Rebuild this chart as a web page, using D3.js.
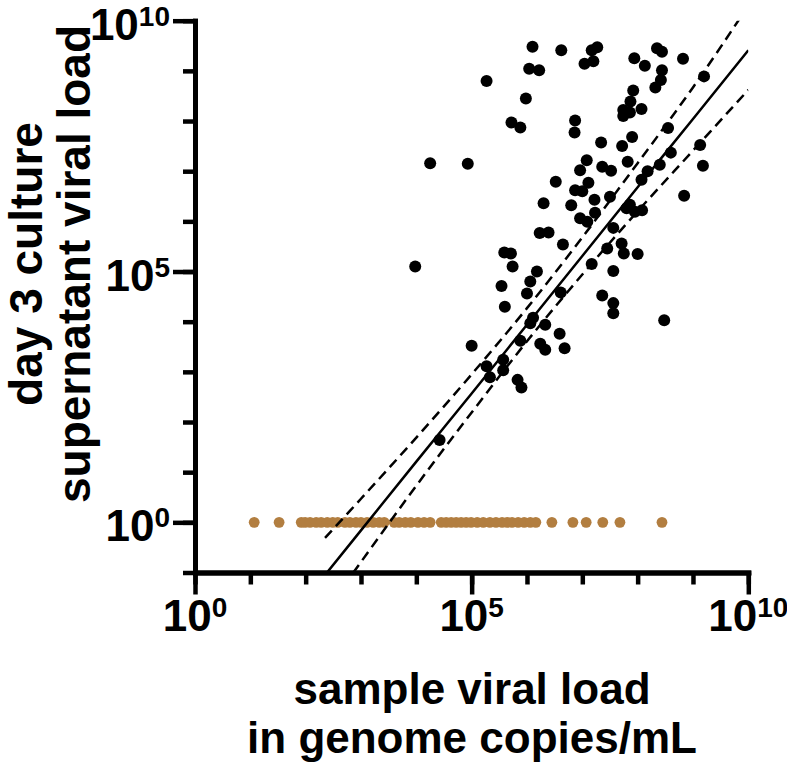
<!DOCTYPE html>
<html><head><meta charset="utf-8">
<script src="https://cdn.jsdelivr.net/npm/d3@7"></script>
<style>
body{margin:0;background:#fff}
svg{display:block}
text{font-family:"Liberation Sans",Arial,Helvetica,sans-serif;font-weight:bold;fill:#000}
</style>
</head><body>
<svg id="chart" width="787" height="771"></svg>
<script>
// ---- data (log10 values) ----
// culture-positive samples: sample viral load (x) and day-3 supernatant viral load (y)
const positiveSampleLog = [6.10,6.62,6.04,6.22,5.27,5.98,5.72,5.88,4.25,4.93,6.52,6.30,6.23,6.39,
  7.27,7.17,7.20,7.04,7.94,8.13,8.35,8.44,8.82,8.44,8.42,8.32,9.20,7.92,7.87,8.07,7.74,7.74,7.86,6.87,6.86,8.55,7.34,7.90,7.72,9.13,7.08,6.96,7.36,7.52,7.82,8.60,8.40,9.18,8.18,8.07,7.11,6.87,7.00,7.22,7.50,6.80,8.84,7.86,7.80,7.95,8.08,7.23,6.96,7.09,7.56,
  6.65,5.59,5.71,3.98,5.74,6.18,6.06,5.54,6.00,6.61,5.60,6.11,6.06,6.33,6.59,5.88,6.24,6.33,6.68,5.00,5.57,5.27,5.57,5.33,5.83,5.90,4.42,
  7.71,7.45,7.75,8.00,7.17,7.56,7.36,7.56,7.56,8.48];
const positiveCultureLog = [9.48,9.41,9.04,9.01,8.80,8.45,7.97,7.87,7.16,7.15,6.79,6.36,5.77,5.78,
  9.47,9.41,9.19,9.14,9.25,9.10,9.45,9.38,9.24,9.01,8.82,8.67,8.89,8.61,8.39,8.24,8.22,8.10,8.17,8.01,7.77,7.86,7.57,7.68,7.50,7.52,7.22,7.02,7.09,7.01,7.19,7.37,7.13,7.11,7.00,6.83,6.77,6.62,6.60,6.43,6.49,6.32,6.51,6.33,6.26,6.19,6.22,6.17,6.06,5.99,5.87,
  5.54,5.38,5.36,5.10,5.10,5.00,4.80,4.71,4.56,4.58,4.30,4.08,3.97,3.94,3.76,3.62,3.56,3.44,3.47,3.52,3.24,3.11,3.03,2.89,2.84,2.69,1.64,
  5.56,5.46,5.36,5.35,5.15,5.01,4.52,4.37,4.17,4.03];
// culture-negative samples, plotted at 10^0
const negativeSampleLog = [1.07,1.52,1.92,1.99,2.08,2.19,2.28,2.39,2.49,2.58,2.71,2.80,2.91,3.00,3.11,3.22,3.33,3.42,
  3.60,3.69,3.80,3.90,4.03,4.14,4.25,4.45,4.54,4.63,4.72,4.81,4.90,4.99,5.10,5.21,5.33,5.44,5.55,5.64,5.73,5.84,5.95,6.06,6.16,
  6.45,6.83,7.07,7.37,7.68,8.44];
const negativeCultureLog = 0;
// regression line and its confidence band (log10 values)
const fitSampleLog = [2.35,3,4,5,6,7,8,9,10];
const fitCultureLog = [-1.05,-0.16,1.21,2.57,3.94,5.31,6.68,8.04,9.41];
const upperCultureLog = [-0.31,0.47,1.69,2.95,4.27,5.68,7.16,8.67,10.30];
const lowerCultureLog = [-1.79,-0.79,0.73,2.19,3.61,4.94,6.20,7.41,8.62];
// axes
const xDecades = [0,1,2,3,4,5,6,7,8,9,10];
const yDecades = [-1,0,1,2,3,4,5,6,7,8,9,10];
const labelExps = [0,5,10];
const xTitle = ["sample viral load","in genome copies/mL"];
const yTitle = ["day 3 culture","supernatant viral load"];

// ---- drawing ----
const svg = d3.select("#chart");
const X0 = 195, X1 = 748.3, Y0 = 572.5, Y1 = 20.7;
const x = d3.scaleLog().domain([1, 1e10]).range([X0, X1]);
const y = d3.scaleLog().domain([0.1, 1e10]).range([Y0, Y1]);
const p10 = e => Math.pow(10, e);

svg.append("defs").append("clipPath").attr("id","plotclip")
  .append("rect").attr("x", X0).attr("y", Y1).attr("width", X1 - X0).attr("height", Y0 - Y1);

// points
const pts = svg.append("g");
pts.selectAll("circle.neg").data(negativeSampleLog).join("circle")
  .attr("class","neg")
  .attr("cx", d => x(p10(d))).attr("cy", y(p10(negativeCultureLog))).attr("r", 5.4)
  .attr("fill", "#b27e40");
pts.selectAll("circle.pos").data(positiveSampleLog.map((d,i)=>[d, positiveCultureLog[i]])).join("circle")
  .attr("class","pos")
  .attr("cx", d => x(p10(d[0]))).attr("cy", d => y(p10(d[1]))).attr("r", 6)
  .attr("fill", "#000");

// fit lines
const lines = svg.append("g").attr("clip-path","url(#plotclip)");
const lineGen = d3.line().curve(d3.curveMonotoneX);
function drawLine(ys, dash){
  lines.append("path")
    .attr("d", lineGen(fitSampleLog.map((d,i)=>[x(p10(d)), y(p10(ys[i]))])))
    .attr("fill","none").attr("stroke","#000").attr("stroke-width",2.5)
    .attr("stroke-dasharray", dash || null);
}
drawLine(fitCultureLog);
drawLine(upperCultureLog, "10,6");
drawLine(lowerCultureLog, "10,6");

// axes
function styleAxis(g){
  g.selectAll(".domain").attr("stroke","#000").attr("stroke-width",5).attr("stroke-linecap","square");
  g.selectAll(".tick line").attr("stroke","#000").attr("stroke-width",4.5);
  g.selectAll(".tick text").remove();
}
const xAxisMinor = d3.axisBottom(x).tickValues(xDecades.map(p10)).tickSize(12).tickSizeOuter(0).tickFormat(()=>"");
const xAxisMajor = d3.axisBottom(x).tickValues(labelExps.map(p10)).tickSize(22).tickSizeOuter(0).tickFormat(()=>"");
const yAxisMinor = d3.axisLeft(y).tickValues(yDecades.map(p10)).tickSize(12).tickSizeOuter(0).tickFormat(()=>"");
const yAxisMajor = d3.axisLeft(y).tickValues(labelExps.map(p10)).tickSize(22).tickSizeOuter(0).tickFormat(()=>"");
svg.append("g").attr("transform",`translate(0,${Y0})`).call(xAxisMinor).call(styleAxis);
svg.append("g").attr("transform",`translate(0,${Y0})`).call(xAxisMajor).call(styleAxis);
svg.append("g").attr("transform",`translate(${X0},0)`).call(yAxisMinor).call(styleAxis);
svg.append("g").attr("transform",`translate(${X0},0)`).call(yAxisMajor).call(styleAxis);

// tick labels
function powLabel(sel, e){
  sel.append("tspan").text("10");
  sel.append("tspan").attr("font-size", 28).attr("dy", -14).text(e);
}
labelExps.forEach(e => {
  svg.append("text").attr("x", x(p10(e))).attr("y", 631).attr("text-anchor","middle")
    .attr("font-size", 44).call(powLabel, e);
  svg.append("text").attr("x", 170).attr("y", y(p10(e)) + 19).attr("text-anchor","end")
    .attr("font-size", 44).call(powLabel, e);
});

// axis titles
xTitle.forEach((t,i) => {
  svg.append("text").attr("x", 472).attr("y", 704 + i*49).attr("text-anchor","middle")
    .attr("font-size", 44).text(t);
});
yTitle.forEach((t,i) => {
  svg.append("text").attr("transform", `translate(${42 + i*48},264) rotate(-90)`)
    .attr("text-anchor","middle").attr("font-size", 46).text(t);
});
</script>
</body></html>
